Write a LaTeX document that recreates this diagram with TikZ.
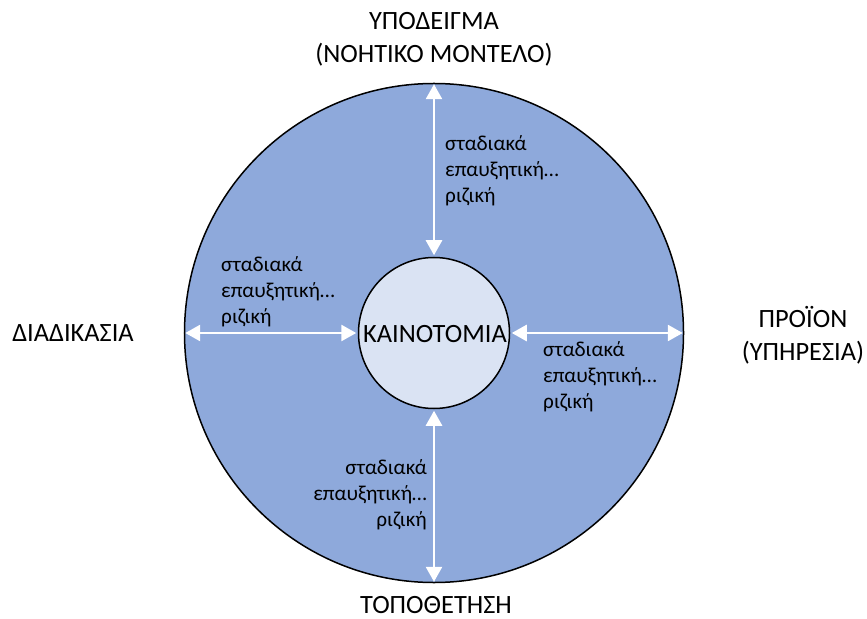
\documentclass[tikz,border=0pt]{standalone}
\usepackage{fontspec}
\setmainfont{Carlito}
\usetikzlibrary{arrows.meta}
\definecolor{outerblue}{HTML}{8EA9DB}
\definecolor{innerblue}{HTML}{DAE3F3}
\tikzset{
  ring/.style={circle, draw=black, line width=1.5bp, inner sep=0pt},
  biglabel/.style={font=\fontsize{26.5}{33}\selectfont, align=center, inner sep=0pt},
  smalllabel/.style={font=\fontsize{21.3}{26}\selectfont, inner sep=0pt},
  dblarrow/.style={draw=white, line width=2.7bp, {Triangle[width=16bp,length=15bp]}-{Triangle[width=16bp,length=15bp]}, shorten <=1.5bp, shorten >=1.5bp}
}
\begin{document}
\begin{tikzpicture}[x=1bp,y=-1bp]
\useasboundingbox (0,0) rectangle (867,619);
\node[ring, fill=outerblue, minimum size=499bp] (outer) at (434,333) {};
\node[ring, fill=innerblue, minimum size=151bp] (inner) at (434,333) {};
\node[biglabel] (innov) at (435,334) {ΚΑΙΝΟΤΟΜΙΑ};
\draw[dblarrow] (inner.north) -- (outer.north);
\draw[dblarrow] (inner.south) -- (outer.south);
\draw[dblarrow] (inner.west) -- (outer.west);
\draw[dblarrow] (inner.east) -- (outer.east);
\node[biglabel] (top) at (434,39) {ΥΠΟΔΕΙΓΜΑ\\(ΝΟΗΤΙΚΟ ΜΟΝΤΕΛΟ)};
\node[biglabel] (left) at (73,333) {ΔΙΑΔΙΚΑΣΙΑ};
\node[biglabel] (right) at (803,335) {ΠΡΟΪΟΝ\\(ΥΠΗΡΕΣΙΑ)};
\node[biglabel] (bottom) at (436,605) {ΤΟΠΟΘΕΤΗΣΗ};
\node[smalllabel, align=left, anchor=west] (ttop) at (445,171) {σταδιακά\\επαυξητική…\\ριζική};
\node[smalllabel, align=left, anchor=west] (tleft) at (221,292) {σταδιακά\\επαυξητική…\\ριζική};
\node[smalllabel, align=left, anchor=west] (tright) at (543,377) {σταδιακά\\επαυξητική…\\ριζική};
\node[smalllabel, align=right, anchor=east] (tbottom) at (427,495) {σταδιακά\\επαυξητική…\\ριζική};
\end{tikzpicture}
\end{document}
